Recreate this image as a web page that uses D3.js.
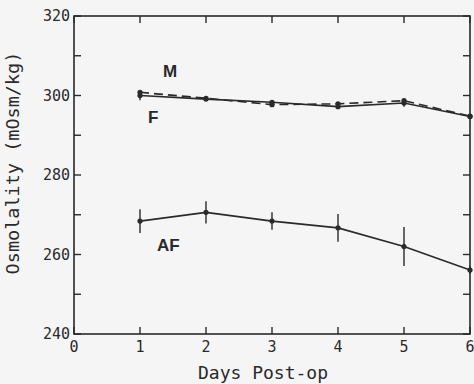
<!DOCTYPE html>
<html><head><meta charset="utf-8">
<script src="https://cdn.jsdelivr.net/npm/d3@7"></script>
<style>body{margin:0;background:#f5f5f5}svg{display:block}</style>
</head><body>
<script>
const days = [1,2,3,4,5,6];
const seriesM = [300.8, 299.3, 297.7, 297.9, 298.7, 294.8];
const seriesF = [300.0, 299.1, 298.3, 297.2, 298.1, 294.7];
const errM = [1.2, 0.5, 0.5, 0.6, 0.9, 0.5];
const seriesAF = [268.4, 270.6, 268.4, 266.7, 262.0, 256.1];
const errAF = [3.0, 2.8, 2.2, 3.5, 4.9, 1.0];
const yTicks = [240, 260, 280, 300, 320];
const xTicks = [0,1,2,3,4,5,6];

const W = 474, H = 384;
const svg = d3.select("body").append("svg").attr("width", W).attr("height", H);
svg.append("rect").attr("width", W).attr("height", H).attr("fill", "#f5f5f5");
const L = 74, R = 470, T = 16, B = 334;
const x = d3.scaleLinear().domain([0,6]).range([L,R]);
const y = d3.scaleLinear().domain([240,320]).range([B,T]);
const ink = "#2a2a2a";
const mono = "'DejaVu Sans Mono', monospace";

svg.append("rect").attr("x",L).attr("y",T).attr("width",R-L).attr("height",B-T)
  .attr("fill","none").attr("stroke",ink).attr("stroke-width",1.6);

const minorY = d3.range(240, 321, 10);
minorY.forEach(v=>{
  svg.append("line").attr("x1",L).attr("x2",L+7).attr("y1",y(v)).attr("y2",y(v)).attr("stroke",ink).attr("stroke-width",1.4);
  svg.append("line").attr("x1",R).attr("x2",R-7).attr("y1",y(v)).attr("y2",y(v)).attr("stroke",ink).attr("stroke-width",1.4);
});
xTicks.forEach(v=>{
  svg.append("line").attr("x1",x(v)).attr("x2",x(v)).attr("y1",B).attr("y2",B-7).attr("stroke",ink).attr("stroke-width",1.4);
  svg.append("line").attr("x1",x(v)).attr("x2",x(v)).attr("y1",T).attr("y2",T+7).attr("stroke",ink).attr("stroke-width",1.4);
});

svg.selectAll(".yl").data(yTicks).enter().append("text")
  .attr("x", L-4).attr("y", d=>y(d)+5).attr("text-anchor","end")
  .attr("font-family",mono).attr("font-size",15).attr("fill",ink).text(d=>d);
svg.selectAll(".xl").data(xTicks).enter().append("text")
  .attr("x", d=>x(d)).attr("y", B+18).attr("text-anchor","middle")
  .attr("font-family",mono).attr("font-size",15).attr("fill",ink).text(d=>d);

svg.append("text").attr("x", 263).attr("y", 379).attr("text-anchor","middle")
  .attr("font-family",mono).attr("font-size",18).attr("fill",ink).text("Days Post-op");
svg.append("text").attr("transform","translate(19,163) rotate(-90)").attr("text-anchor","middle")
  .attr("font-family",mono).attr("font-size",18.5).attr("fill",ink).text("Osmolality (mOsm/kg)");

function drawSeries(vals, errs, dash){
  const line = d3.line().x((d,i)=>x(days[i])).y(d=>y(d));
  svg.append("path").attr("d", line(vals)).attr("fill","none").attr("stroke",ink)
    .attr("stroke-width",1.6).attr("stroke-dasharray", dash || null);
  if (errs) vals.forEach((v,i)=>{
    svg.append("line").attr("x1",x(days[i])).attr("x2",x(days[i]))
      .attr("y1",y(v-errs[i])).attr("y2",y(v+errs[i])).attr("stroke",ink).attr("stroke-width",1.4);
  });
  vals.forEach((v,i)=>{
    svg.append("circle").attr("cx",x(days[i])).attr("cy",y(v)).attr("r",2.6).attr("fill",ink);
  });
}
drawSeries(seriesF, errM, null);
drawSeries(seriesM, null, "9,5");
drawSeries(seriesAF, errAF, null);

const lab = (t,xx,yy)=>svg.append("text").attr("x",xx).attr("y",yy)
  .attr("font-family","'Liberation Sans', Arial, sans-serif").attr("font-weight","bold")
  .attr("font-size",17).attr("fill",ink).text(t);
lab("M", 163, 77);
lab("F", 148, 123);
lab("AF", 157, 251);
</script>
</body></html>
